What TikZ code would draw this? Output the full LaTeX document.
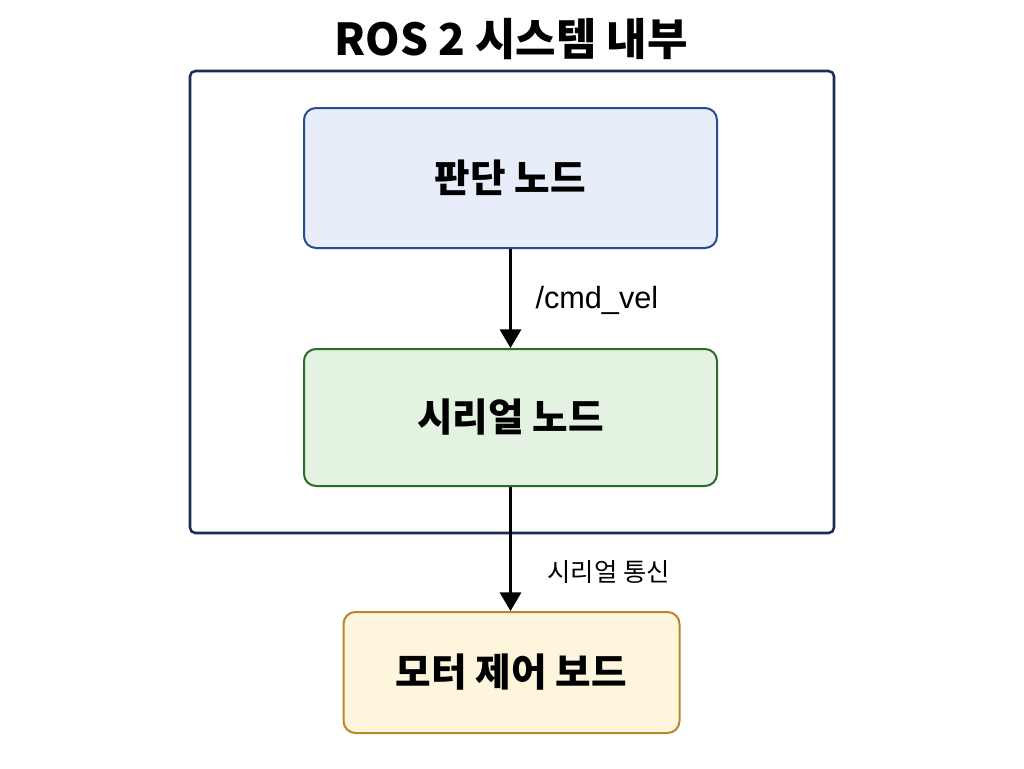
\documentclass[tikz,border=0pt]{standalone}
\usepackage{fontspec}
\setmainfont{Noto Sans CJK KR}
\newfontfamily\labelfont{Liberation Sans}
\usetikzlibrary{arrows.meta}

\definecolor{framenavy}{RGB}{28,43,85}
\definecolor{judgeline}{RGB}{43,74,148}
\definecolor{judgefill}{RGB}{231,238,250}
\definecolor{serialline}{RGB}{46,107,42}
\definecolor{serialfill}{RGB}{227,242,225}
\definecolor{boardline}{RGB}{184,134,43}
\definecolor{boardfill}{RGB}{253,245,220}

\tikzset{every picture/.style={line width=0.75pt}}
\tikzset{
  nodebox/.style={draw, rounded corners=9pt, line width=1.5pt, inner sep=0pt,
    font=\fontsize{29}{34}\selectfont\bfseries},
  flow/.style={-{Triangle[width=16pt,length=14pt]}, line width=1.8pt},
  edgelabel/.style={anchor=west, inner sep=0.75pt},
}

\begin{document}
\begin{tikzpicture}[x=0.75pt,y=0.75pt,yscale=-1,xscale=1]
\useasboundingbox (0,0) rectangle (1024,768);

% Text Node
\node [font=\fontsize{33}{40}\selectfont\bfseries] (title) at (511,39) {ROS 2 시스템 내부};

%Shape: Rectangle [frame]
\draw [color=framenavy, line width=1.9pt, rounded corners=4pt] (190,71) rectangle (834,533);

% Box Nodes
\node [nodebox, draw=judgeline, fill=judgefill, minimum width=309.75pt, minimum height=105pt] (judge) at (510.5,178) {판단 노드};
\node [nodebox, draw=serialline, fill=serialfill, minimum width=309.75pt, minimum height=102.75pt] (serial) at (510.5,417.5) {시리얼 노드};
\node [nodebox, draw=boardline, fill=boardfill, minimum width=252pt, minimum height=90.75pt] (board) at (511.5,672.5) {모터 제어 보드};

%Straight Lines
\draw [flow] (judge) -- (serial);
\draw [flow] (serial.south) -- (serial.south |- board.north);

% Text Node
\node [edgelabel, font=\labelfont\fontsize{23}{27}\selectfont] (cmdlbl) at (534,300) {/cmd\_vel};
% Text Node
\node [edgelabel, font=\fontsize{19}{22}\selectfont] (linklbl) at (546,572) {시리얼 통신};

\end{tikzpicture}
\end{document}
